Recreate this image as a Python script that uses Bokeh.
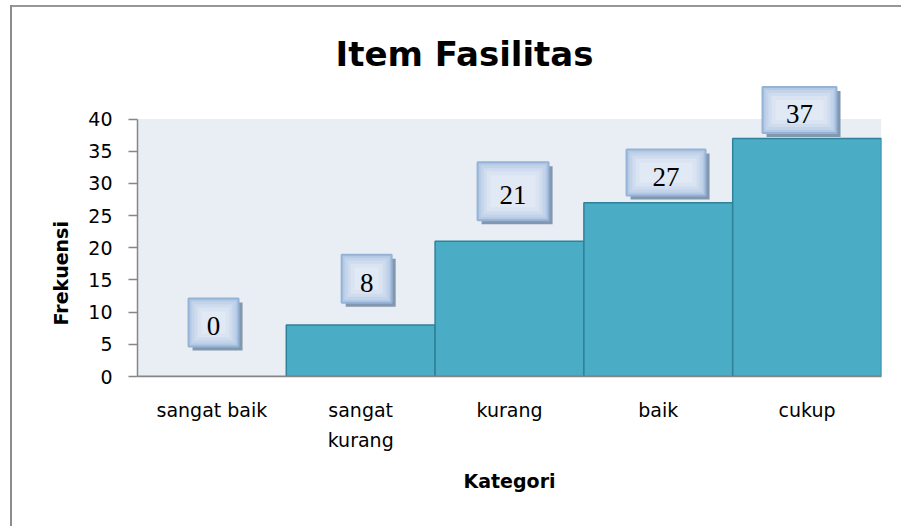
from bokeh.plotting import figure
from bokeh.models import FixedTicker, Range1d, Title
from bokeh.core.properties import value
from bokeh.embed import file_html
from bokeh.resources import INLINE

# ---- data ----
categories = ["sangat baik", "sangat\nkurang", "kurang", "baik", "cukup"]
frekuensi = [0, 8, 21, 27, 37]
value_labels = ["0", "8", "21", "27", "37"]
y_ticks = [0, 5, 10, 15, 20, 25, 30, 35, 40]

# ---- styling of the value-label boxes (offsets from bar top, sizes in px) ----
box_dx = [0.011, 0.04, 0.024, 0.052, -0.051]
box_dy = [8.4, 7.2, 7.8, 4.7, 4.4]
box_w = [50, 50, 71, 79, 74]
box_h = [48, 48, 58, 46, 46]
box_layers = [(0, "#B4C9E4"), (6, "#C3D4EA"), (12, "#CFDCEE"), (18, "#D9E3F2"), (26, "#E1E9F5")]

centers = [i + 0.5 for i in range(len(categories))]
bx = [c + d for c, d in zip(centers, box_dx)]
by = [v + d for v, d in zip(frekuensi, box_dy)]
y_max = y_ticks[-1]

p = figure(width=901, height=526, x_range=Range1d(0, len(categories)), y_range=Range1d(0, 46),
           output_backend="svg", toolbar_location=None,
           min_border_left=137, min_border_right=20, min_border_top=80, min_border_bottom=150)

p.background_fill_color = "white"
p.border_fill_alpha = 0
p.outline_line_color = None
p.xgrid.visible = False
p.ygrid.visible = False
# outer chart border (left and top edges of the chart frame)
p.styles = {"background": "linear-gradient(#8C8C8C,#8C8C8C) 10px 5px / 2px calc(100% - 5px) no-repeat, "
                          "linear-gradient(#979797,#979797) 10px 5px / calc(100% - 10px) 2px no-repeat, "
                          "#FFFFFF"}

# plot-area background (0..40)
p.quad(left=0, right=len(categories), bottom=0, top=y_max,
       fill_color="#E8EEF3", line_color=None)

# bars
p.vbar(x=centers, top=frekuensi, bottom=0, width=1.0,
       fill_color="#4BACC6", line_color="#2F8199", line_width=1.5)

# label boxes: shadow + layered gradient-like fill
p.rect(x=[x + 0.027 for x in bx], y=[y - 0.62 for y in by], width=box_w, height=box_h,
       width_units="screen", height_units="screen", fill_color="#8397AF", line_color=None)
for i, (shrink, col) in enumerate(box_layers):
    p.rect(x=bx, y=by, width=[w - shrink for w in box_w], height=[h - shrink for h in box_h],
           width_units="screen", height_units="screen", fill_color=col,
           line_color="#95B3D7" if i == 0 else None, line_width=2)
p.text(x=bx, y=by, text=value_labels, text_font=value("Liberation Serif"),
       text_font_size="27px", text_align="center", text_baseline="middle",
       text_color="black", y_offset=4)

# title
p.title.text = "Item Fasilitas"
p.title.align = "left"
p.title.offset = 198
p.title.standoff = 13
p.title.text_font = "DejaVu Sans"
p.title.text_font_size = "34px"
p.title.text_font_style = "bold"
p.title.text_color = "black"

# x axis
xa = p.xaxis[0]
xa.ticker = FixedTicker(ticks=centers)
xa.major_label_overrides = {c: lab for c, lab in zip(centers, categories)}
xa.major_tick_out = 0
xa.major_tick_in = 0
xa.minor_tick_out = 0
xa.minor_tick_in = 0
xa.axis_line_color = "#868686"
xa.axis_line_width = 1.5
xa.major_label_text_font = "DejaVu Sans"
xa.major_label_text_font_size = "19px"
xa.major_label_text_color = "black"
xa.major_label_text_line_height = 1.38
xa.major_label_standoff = 22
xa.axis_label = "Kategori"
xa.axis_label_text_font = "DejaVu Sans"
xa.axis_label_text_font_size = "19px"
xa.axis_label_text_font_style = "bold"
xa.axis_label_text_color = "black"
xa.axis_label_standoff = 16

# y axis
ya = p.yaxis[0]
ya.ticker = FixedTicker(ticks=y_ticks)
ya.bounds = (0, y_max)
ya.major_tick_out = 9
ya.major_tick_in = 0
ya.minor_tick_out = 0
ya.minor_tick_in = 0
ya.major_tick_line_color = "#868686"
ya.major_tick_line_width = 1.5
ya.axis_line_color = "#868686"
ya.axis_line_width = 1.5
ya.major_label_text_font = "DejaVu Sans"
ya.major_label_text_font_size = "19px"
ya.major_label_text_color = "black"
ya.major_label_standoff = 16

# y-axis title, placed as a side title so it can sit below the range centre
ytitle = Title(text="Frekuensi", align="left", offset=51, standoff=28,
               text_font="DejaVu Sans", text_font_size="19px", text_font_style="bold",
               text_color="black")
p.add_layout(ytitle, "left")

open("out.html", "w").write(file_html(p, INLINE))
